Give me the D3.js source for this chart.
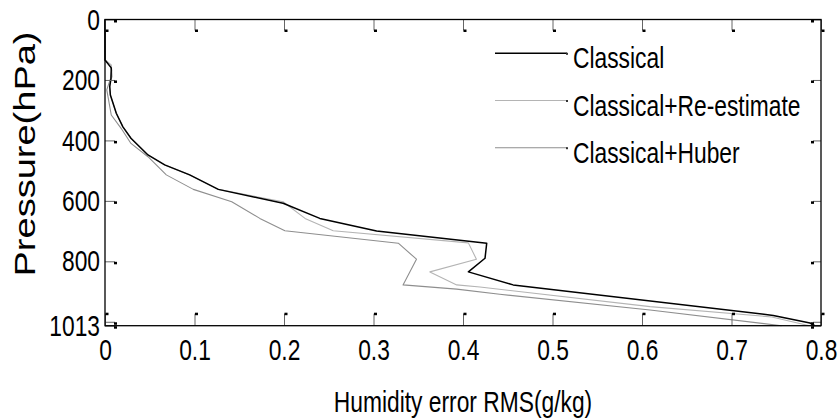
<!DOCTYPE html>
<html>
<head>
<meta charset="utf-8">
<script src="https://cdn.jsdelivr.net/npm/d3@7"></script>
<style>
body { margin: 0; background: white; }
svg { display: block; }
text { font-family: "Liberation Sans", Arial, sans-serif; fill: black; }
</style>
</head>
<body>
<div id="Main_Part"></div>
<script>
// series data: pressure (hPa) and humidity error RMS (g/kg)
var classicalP   = [0, 134, 160, 195, 222, 250, 310, 355, 393, 448, 481, 514, 562, 608, 658, 700, 740, 790, 835, 878, 979, 1004, 1013];
var classicalRms = [0, 0, 0.007, 0.0067, 0.0053, 0.006, 0.0126, 0.020, 0.029, 0.048, 0.0667, 0.0946, 0.1266, 0.199, 0.240, 0.3035, 0.4265, 0.4246, 0.406, 0.456, 0.7467, 0.7877, 0.793];

var reestP   = [0, 134, 150, 189, 211, 250, 310, 355, 393, 448, 481, 514, 562, 603, 658, 699, 739, 793, 835, 878, 885, 950, 984, 1013];
var reestRms = [0, 0.0003, 0.007, 0.008, 0.005, 0.006, 0.0126, 0.020, 0.029, 0.048, 0.0667, 0.0946, 0.1266, 0.199, 0.2235, 0.255, 0.406, 0.415, 0.363, 0.393, 0.419, 0.609, 0.745, 0.787];

var huberP   = [0, 134, 154, 167, 194, 217, 233, 316, 360, 410, 454, 514, 562, 603, 658, 699, 740, 793, 878, 892, 909, 961, 1013];
var huberRms = [0, 0, 0.0056, 0.0075, 0.0064, 0.0037, 0.002, 0.007, 0.018, 0.029, 0.048, 0.0685, 0.0987, 0.1416, 0.173, 0.201, 0.3277, 0.348, 0.333, 0.393, 0.441, 0.609, 0.756];

var seriesNames  = ["Classical", "Classical+Re-estimate", "Classical+Huber"];
var seriesColors = ["#000000", "#b4b4b4", "#8e8e8e"];
var seriesWidths = [1.5, 1.1, 1.1];

var xTicks = [0, 0.1, 0.2, 0.3, 0.4, 0.5, 0.6, 0.7, 0.8];
var yTicks = [0, 200, 400, 600, 800, 1000, 1013];
var yTickLabels = ["0", "200", "400", "600", "800", "", "1013"];

var Width = 838, Height = 419;
var Left = 105, Right = 821, Top = 19.5, Bottom = 325.7;
var FontSize = 30;
var Narrow = 0.76;

var svg = d3.select('#Main_Part')
	.append("svg")
	.attr("width", Width)
	.attr("height", Height);

var x = d3.scaleLinear().domain([0, 0.8]).range([Left, Right]);
var y = d3.scaleLinear().domain([0, 1013]).range([Top, Bottom]);

// squeeze glyphs like the condensed font of the original
function NarrowText(sel, factor)
{
	sel.each(function(){
		var len = this.getComputedTextLength();
		if(len > 0)
			{
				d3.select(this)
				.attr("textLength", len*factor)
				.attr("lengthAdjust", "spacingAndGlyphs");
			}
	});
}

// curves
var allSeries = [
	{p: classicalP, v: classicalRms},
	{p: reestP, v: reestRms},
	{p: huberP, v: huberRms}
];

var line = d3.line()
	.x(function(d){ return x(d[0]); })
	.y(function(d){ return y(d[1]); });

// draw grey ones first, black on top
[2, 1, 0].forEach(function(i){
	var pts = allSeries[i].v.map(function(v, k){ return [v, allSeries[i].p[k]]; });
	svg.append("path")
	.attr("d", line(pts))
	.attr("fill", "none")
	.attr("stroke", seriesColors[i])
	.attr("stroke-width", seriesWidths[i])
	.attr("stroke-linejoin", "round");
});

// axes with ticks pointing inward
var xAxisBottom = svg.append("g")
	.attr("transform", "translate(0," + Bottom + ")")
	.call(d3.axisBottom(x).tickValues(xTicks).tickSize(-12).tickPadding(13)
		.tickFormat(function(d){ return d === 0 ? "0" : d3.format(".1f")(d); }));

var xAxisTop = svg.append("g")
	.attr("transform", "translate(0," + Top + ")")
	.call(d3.axisTop(x).tickValues(xTicks).tickSize(-11).tickFormat(""));

var yAxisLeft = svg.append("g")
	.attr("transform", "translate(" + Left + ",0)")
	.call(d3.axisLeft(y).tickValues(yTicks).tickSize(-10).tickPadding(5)
		.tickFormat(function(d, i){ return yTickLabels[i]; }));

var yAxisRight = svg.append("g")
	.attr("transform", "translate(" + Right + ",0)")
	.call(d3.axisRight(y).tickValues(yTicks).tickSize(-8).tickFormat(""));

[xAxisBottom, xAxisTop, yAxisLeft, yAxisRight].forEach(function(g){
	g.select(".domain").remove();
	g.selectAll(".tick line").attr("stroke", "#666").attr("stroke-width", 1);
	g.selectAll("text")
	.style("font-size", FontSize + "px")
	.attr("fill", "black");
});

// small dark marks at the tick ends
xAxisBottom.selectAll(".tick").append("rect")
	.attr("x", 0).attr("y", -13).attr("width", 3).attr("height", 2.5).attr("fill", "black");
xAxisTop.selectAll(".tick").append("rect")
	.attr("x", 0).attr("y", 10).attr("width", 3).attr("height", 2.5).attr("fill", "black");
yAxisLeft.selectAll(".tick").append("rect")
	.attr("x", 9).attr("y", 0).attr("width", 3).attr("height", 2.5).attr("fill", "black");
yAxisRight.selectAll(".tick").append("rect")
	.attr("x", -10).attr("y", 0).attr("width", 3).attr("height", 2.5).attr("fill", "black");

// plot frame
svg.append("rect")
	.attr("x", Left)
	.attr("y", Top)
	.attr("width", Right - Left)
	.attr("height", Bottom - Top)
	.attr("fill", "none")
	.attr("stroke", "black")
	.attr("stroke-width", 1.3);

NarrowText(xAxisBottom.selectAll("text"), Narrow);
NarrowText(yAxisLeft.selectAll("text"), Narrow);

// axis titles
var XTitle = svg.append("text")
	.attr("x", (Left + Right)/2)
	.attr("y", 412)
	.attr("text-anchor", "middle")
	.style("font-size", FontSize + "px")
	.text("Humidity error RMS(g/kg)");
NarrowText(XTitle, Narrow);

var YTitle = svg.append("text")
	.attr("transform", "translate(35,154) rotate(-90)")
	.attr("text-anchor", "middle")
	.style("font-size", FontSize + "px")
	.attr("textLength", 245)
	.attr("lengthAdjust", "spacingAndGlyphs")
	.text("Pressure(hPa)");

// legend
var LegendTop = 53.3, LegendStep = 47.2;
var Legend = svg.append("g");

seriesNames.forEach(function(name, i){
	var ly = LegendTop + i*LegendStep;
	Legend.append("line")
	.attr("x1", 495).attr("x2", 567)
	.attr("y1", ly).attr("y2", ly)
	.attr("stroke", seriesColors[i])
	.attr("stroke-width", seriesWidths[i]);
	Legend.append("rect")
	.attr("x", 566).attr("y", ly - 0.5).attr("width", 2).attr("height", 2)
	.attr("fill", "#333");
	var t = Legend.append("text")
	.attr("x", 573)
	.attr("y", ly + 15)
	.style("font-size", FontSize + "px")
	.text(name);
	NarrowText(t, Narrow);
});
</script>
</body>
</html>
